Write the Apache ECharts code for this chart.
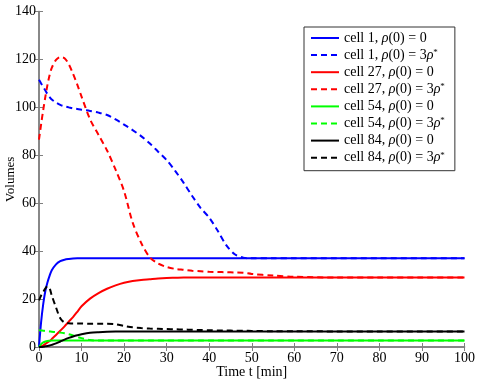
<!DOCTYPE html>
<html>
<head>
<meta charset="utf-8">
<script src="https://cdn.jsdelivr.net/npm/echarts@6/dist/echarts.min.js"></script>
<style>
html, body { margin: 0; padding: 0; background: #fff; }
#chart { width: 478px; height: 382px; }
</style>
</head>
<body>
<div id="chart"></div>
<script>
// time points [min]
const times = [0, 0.5, 1, 1.5, 2, 2.5, 3, 4, 5, 6, 7, 8, 9, 10, 12, 14, 16, 18, 20, 22,
  24, 26, 28, 30, 32, 34, 36, 38, 40, 42, 44, 46, 48, 50, 55, 60, 70, 80, 90, 100]

// volumes
const cell1Zero = [0, 10.5, 18, 23.5, 27, 29.8, 32, 34.5, 35.8, 36.4, 36.7, 36.9, 37, 37, 37, 37, 37, 37, 37, 37,
  37, 37, 37, 37, 37, 37, 37, 37, 37, 37, 37, 37, 37, 37, 37, 37, 37, 37, 37, 37]
const cell1Rho = [111.5, 110, 108.5, 107, 105.5, 104.3, 103.3, 102, 101, 100.4, 100, 99.6, 99.3, 99, 98.5, 97.8, 96.8, 95, 92.8, 90.5,
  88, 85, 81.5, 78, 73.5, 68.5, 63, 58, 54, 48.5, 42.5, 38.7, 37.3, 37, 37, 37, 37, 37, 37, 37]
const cell27Zero = [0, 0.3, 0.7, 1.3, 1.9, 2.5, 3.3, 5, 6.8, 8.6, 10.6, 12.5, 14.7, 17, 20.2, 22.5, 24.3, 25.7, 26.8, 27.5,
  28, 28.3, 28.6, 28.8, 28.9, 29, 29, 29, 29, 29, 29, 29, 29, 29, 29, 29, 29, 29, 29, 29]
const cell27Rho = [86.5, 93, 99, 104.5, 109.5, 113.5, 116.5, 119.8, 121, 120.5, 118, 114, 109.5, 104.5, 95, 88.5, 82, 74, 65, 52,
  43.5, 37.5, 34.8, 33.4, 32.6, 32.2, 31.8, 31.6, 31.4, 31.3, 31.2, 31.1, 31, 30.5, 29.8, 29.3, 29, 29, 29, 29]
const cell54Zero = [0, 1.2, 1.9, 2.3, 2.5, 2.6, 2.7, 2.7, 2.7, 2.7, 2.7, 2.7, 2.7, 2.7, 2.7, 2.7, 2.7, 2.7, 2.7, 2.7,
  2.7, 2.7, 2.7, 2.7, 2.7, 2.7, 2.7, 2.7, 2.7, 2.7, 2.7, 2.7, 2.7, 2.7, 2.7, 2.7, 2.7, 2.7, 2.7, 2.7]
const cell54Rho = [7, 6.9, 6.8, 6.7, 6.6, 6.5, 6.4, 6.2, 6, 5.7, 5.3, 4.8, 4.2, 3.7, 2.9, 2.7, 2.7, 2.7, 2.7, 2.7,
  2.7, 2.7, 2.7, 2.7, 2.7, 2.7, 2.7, 2.7, 2.7, 2.7, 2.7, 2.7, 2.7, 2.7, 2.7, 2.7, 2.7, 2.7, 2.7, 2.7]
const cell84Zero = [0, 0.05, 0.15, 0.3, 0.45, 0.65, 0.9, 1.5, 2.3, 3.1, 3.8, 4.4, 4.9, 5.3, 5.9, 6.2, 6.4, 6.5, 6.5, 6.5,
  6.5, 6.5, 6.5, 6.5, 6.5, 6.5, 6.5, 6.5, 6.5, 6.5, 6.5, 6.5, 6.5, 6.5, 6.5, 6.5, 6.5, 6.5, 6.5, 6.5]
const cell84Rho = [19.5, 21.5, 23, 24.5, 25.3, 24.5, 21.5, 16.5, 12, 10.2, 9.9, 9.8, 9.8, 9.8, 9.7, 9.7, 9.7, 9.5, 8.8, 8.2,
  7.9, 7.7, 7.6, 7.5, 7.4, 7.3, 7.2, 7.1, 7, 6.9, 6.9, 6.8, 6.8, 6.7, 6.6, 6.6, 6.5, 6.5, 6.5, 6.5]

const seriesNames = [
  'cell 1, ρ(0) = 0', 'cell 1, ρ(0) = 3ρ*',
  'cell 27, ρ(0) = 0', 'cell 27, ρ(0) = 3ρ*',
  'cell 54, ρ(0) = 0', 'cell 54, ρ(0) = 3ρ*',
  'cell 84, ρ(0) = 0', 'cell 84, ρ(0) = 3ρ*'
]
const seriesValues = [cell1Zero, cell1Rho, cell27Zero, cell27Rho, cell54Zero, cell54Rho, cell84Zero, cell84Rho]
const seriesColors = ['#0000ff', '#0000ff', '#ff0000', '#ff0000', '#00ff00', '#00ff00', '#000000', '#000000']

const xTicks = { min: 0, max: 100, interval: 10 }
const yTicks = { min: 0, max: 140, interval: 20 }

const serif = 'Liberation Serif'
const frameColor = '#808080'

const axisCommon = {
  axisLine: { show: true, lineStyle: { color: frameColor, width: 1.5 } },
  axisTick: { show: true, inside: true, length: 4, lineStyle: { color: frameColor } },
  splitLine: { show: false }
}

const chart = echarts.init(document.getElementById('chart'))
chart.setOption({
  animation: false,
  grid: { left: 39, right: 13.5, top: 11.5, bottom: 35, containLabel: false, outerBoundsMode: 'none' },
  legend: {
    orient: 'vertical',
    left: 304,
    top: 27,
    padding: [4, 10, 6, 6],
    itemWidth: 28,
    itemHeight: 12,
    itemGap: 3.1,
    backgroundColor: '#fff',
    borderColor: '#333',
    borderWidth: 1,
    borderRadius: 0,
    data: seriesNames,
    itemStyle: { color: 'rgba(0,0,0,0)', borderWidth: 0, opacity: 0 },
    textStyle: {
      fontFamily: serif,
      fontSize: 14,
      lineHeight: 14,
      color: '#000',
      rich: {
        i: { fontFamily: serif, fontSize: 14, lineHeight: 14, fontStyle: 'italic', color: '#000' },
        s: { fontFamily: serif, fontSize: 9, lineHeight: 14, verticalAlign: 'top', color: '#000' }
      }
    },
    formatter: function (name) {
      return name.replace(/ρ/g, '{i|ρ}').replace('*', '{s|*}')
    }
  },
  xAxis: [
    Object.assign({
      type: 'value',
      min: xTicks.min, max: xTicks.max, interval: xTicks.interval,
      name: 'Time t [min]',
      nameLocation: 'middle',
      nameGap: 18,
      nameMoveOverlap: false,
      nameTextStyle: { fontFamily: serif, fontSize: 14, color: '#000' },
      axisLabel: { fontFamily: serif, fontSize: 14, color: '#000', margin: 4 }
    }, axisCommon),
    Object.assign({
      type: 'value',
      position: 'top',
      min: xTicks.min, max: xTicks.max, interval: xTicks.interval,
      axisLabel: { show: false }
    }, axisCommon)
  ],
  yAxis: [
    Object.assign({
      type: 'value',
      min: yTicks.min, max: yTicks.max, interval: yTicks.interval,
      name: 'Volumes',
      nameLocation: 'middle',
      nameGap: 22,
      nameMoveOverlap: false,
      nameTextStyle: { fontFamily: serif, fontSize: 13, color: '#000' },
      axisLabel: { fontFamily: serif, fontSize: 14, color: '#000', margin: 3 }
    }, axisCommon),
    Object.assign({
      type: 'value',
      position: 'right',
      min: yTicks.min, max: yTicks.max, interval: yTicks.interval,
      axisLabel: { show: false }
    }, axisCommon)
  ],
  series: seriesNames.map((name, i) => ({
    name: name,
    type: 'line',
    xAxisIndex: 0,
    yAxisIndex: 0,
    showSymbol: false,
    symbol: 'none',
    smooth: 0.3,
    color: seriesColors[i],
    lineStyle: {
      color: seriesColors[i],
      width: 2,
      type: i % 2 === 1 ? [6, 4] : 'solid'
    },
    data: times.map((t, k) => [t, seriesValues[i][k]])
  }))
})
</script>
</body>
</html>
